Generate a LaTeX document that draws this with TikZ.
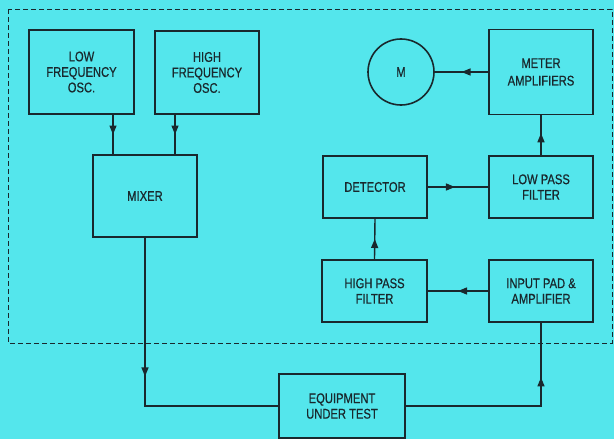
\documentclass[tikz,border=0pt]{standalone}
\usepackage{fontspec}
\setmainfont{Liberation Sans}[FakeStretch=0.8,FakeBold=0.6]
\usetikzlibrary{decorations.markings,arrows.meta}
\definecolor{panel}{RGB}{84,230,236}
\definecolor{ink}{RGB}{25,40,45}

\begin{document}
\begin{tikzpicture}[x=1pt,y=-1pt,
	blk/.style={draw=ink,line width=1.6pt,minimum width=104pt,minimum height=62pt,
		align=center,inner sep=0pt,text=ink,font=\fontsize{14}{15.5}\selectfont},
	flow/.style={draw=ink,line width=1.4pt,postaction={decorate},
		decoration={markings,mark=at position #1 with {\arrow{Triangle[length=9pt,width=7pt]}}}},
	flow/.default=0.5]
	\fill[panel] (0,0) rectangle (614,439);
	\useasboundingbox (0,0) rectangle (614,439);
	\draw[ink,line width=1pt,dash pattern=on 5pt off 3pt] (8,9) rectangle (612,343);
	% left side
	\node[blk,minimum width=105pt,minimum height=84pt] (lfo) at (81.5,72) {LOW\\FREQUENCY\\OSC.};
	\node[blk,minimum height=83pt] (hfo) at (207,72.5) {HIGH\\FREQUENCY\\OSC.};
	\node[blk,minimum height=82pt] (mix) at (145,196) {MIXER};
	\node[blk,minimum width=126pt,minimum height=64pt] (eut) at (342,406) {EQUIPMENT\\UNDER TEST};
	% right side
	\node[blk] (inp) at (541,291) {INPUT PAD \&\\AMPLIFIER};
	\node[blk,minimum width=105pt] (hpf) at (374.5,291) {HIGH PASS\\FILTER};
	\node[blk] (det) at (375,187) {DETECTOR};
	\node[blk] (lpf) at (541,187) {LOW PASS\\FILTER};
	\node[blk,minimum height=85pt,font=\fontsize{14}{17.5}\selectfont] (mamp) at (541,72) {METER\\AMPLIFIERS};
	\node[blk,circle,minimum width=66pt,minimum height=66pt] (m) at (401,72) {M};
	% connections
	\draw[flow] ([xshift=31.5pt]lfo.south) -- ([xshift=31.5pt]lfo.south |- mix.north);
	\draw[flow] ([xshift=-32pt]hfo.south) -- ([xshift=-32pt]hfo.south |- mix.north);
	\draw[flow=0.46] (mix.south) |- (eut.west);
	\draw[flow=0.75] (eut.east) -| (inp.south);
	\draw[flow] (inp.west) -- (hpf.east);
	\draw[flow] (hpf.north) -- (det.south);
	\draw[flow=0.45] (det.east) -- (lpf.west);
	\draw[flow=0.55] (lpf.north) -- (mamp.south);
	\draw[flow] (mamp.west) -- (m.east);
\end{tikzpicture}
\end{document}
